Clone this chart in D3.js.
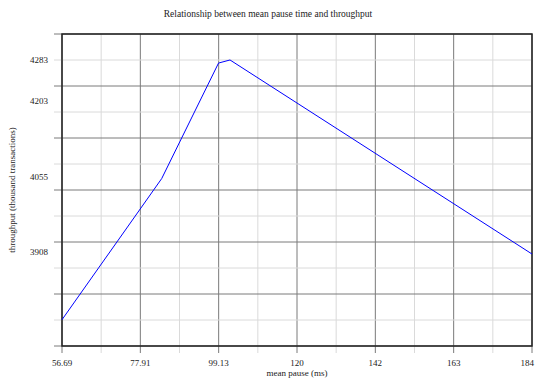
<!DOCTYPE html>
<html>
<head>
<meta charset="utf-8">
<script src="https://cdn.jsdelivr.net/npm/d3@7"></script>
<style>
  body { margin: 0; background: #fff; }
  text { font-family: "Liberation Serif", "DejaVu Serif", serif; fill: #222; }
</style>
</head>
<body>
<svg id="vis" width="535" height="383"></svg>
<script>
// values
var pauseMs = [56.69, 83.7, 99.1, 102.2, 184.01];
var throughput = [3777, 4052, 4277, 4283, 3905];
var xTickValues = [56.69, 77.91, 99.13, 120.35, 141.57, 162.79, 184.01];
var xTickLabels = ["56.69", "77.91", "99.13", "120", "142", "163", "184"];
var yTickValues = [4283, 4203, 4055, 3908];

var svg = d3.select("#vis");
var margin = { top: 34, right: 3, bottom: 37, left: 62 },
  width = 535,
  height = 383;

var xScale = d3
  .scaleLinear()
  .domain([56.69, 184.01])
  .range([margin.left, width - margin.right]);

var yScale = d3
  .scaleLinear()
  .domain([3725.8, 4333.6])
  .range([height - margin.bottom, margin.top]);

var x0 = margin.left,
  x1 = width - margin.right,
  y0 = margin.top,
  y1 = height - margin.bottom;

// grid: 12 divisions each way, every second one darker
var gx = d3.range(13).map(i => x0 + (i * (x1 - x0)) / 12);
var gy = d3.range(13).map(i => y0 + (i * (y1 - y0)) / 12);

svg
  .append("g")
  .selectAll("line")
  .data(gx)
  .enter()
  .append("line")
  .attr("x1", d => d)
  .attr("x2", d => d)
  .attr("y1", y0)
  .attr("y2", y1 + 7)
  .style("stroke", (d, i) => (i % 2 ? "#dadada" : "#7a7a7a"))
  .style("stroke-width", "1px");

svg
  .append("g")
  .selectAll("line")
  .data(gy)
  .enter()
  .append("line")
  .attr("x1", x0 - 8)
  .attr("x2", x1)
  .attr("y1", d => d)
  .attr("y2", d => d)
  .style("stroke", (d, i) => (i % 2 ? "#dadada" : "#7a7a7a"))
  .style("stroke-width", "1px");

svg
  .append("rect")
  .attr("x", x0)
  .attr("y", y0)
  .attr("width", x1 - x0)
  .attr("height", y1 - y0)
  .style("fill", "none")
  .style("stroke", "#222")
  .style("stroke-width", "1.5px");

// tick labels (last one pulled in so it stays on the page)
svg
  .append("g")
  .selectAll("text")
  .data(xTickValues)
  .enter()
  .append("text")
  .attr("x", (d, i) => (i === xTickValues.length - 1 ? width - 1 : xScale(d)))
  .attr("y", y1 + 20)
  .attr("text-anchor", (d, i) => (i === xTickValues.length - 1 ? "end" : "middle"))
  .style("font-size", "9px")
  .text((d, i) => xTickLabels[i]);

svg
  .append("g")
  .selectAll("text")
  .data(yTickValues)
  .enter()
  .append("text")
  .attr("x", 48)
  .attr("y", d => yScale(d) + 3)
  .attr("text-anchor", "end")
  .style("font-size", "9px")
  .text(d => d);

// the line
var line = d3
  .line()
  .x(d => xScale(d[0]))
  .y(d => yScale(d[1]));

svg
  .append("path")
  .datum(pauseMs.map((d, i) => [d, throughput[i]]))
  .attr("d", line)
  .style("fill", "none")
  .style("stroke", "#0000ff")
  .style("stroke-width", "1px");

svg
  .append("text")
  .text("Relationship between mean pause time and throughput")
  .attr("x", 268)
  .attr("y", 17)
  .attr("text-anchor", "middle")
  .style("font-size", "9.5px");

svg
  .append("text")
  .text("mean pause (ms)")
  .attr("x", 297)
  .attr("y", 376)
  .attr("text-anchor", "middle")
  .style("font-size", "9px");

svg
  .append("text")
  .text("throughput (thousand transactions)")
  .attr("transform", "translate(15, 190) rotate(-90)")
  .attr("text-anchor", "middle")
  .style("font-size", "9px");
</script>
</body>
</html>
